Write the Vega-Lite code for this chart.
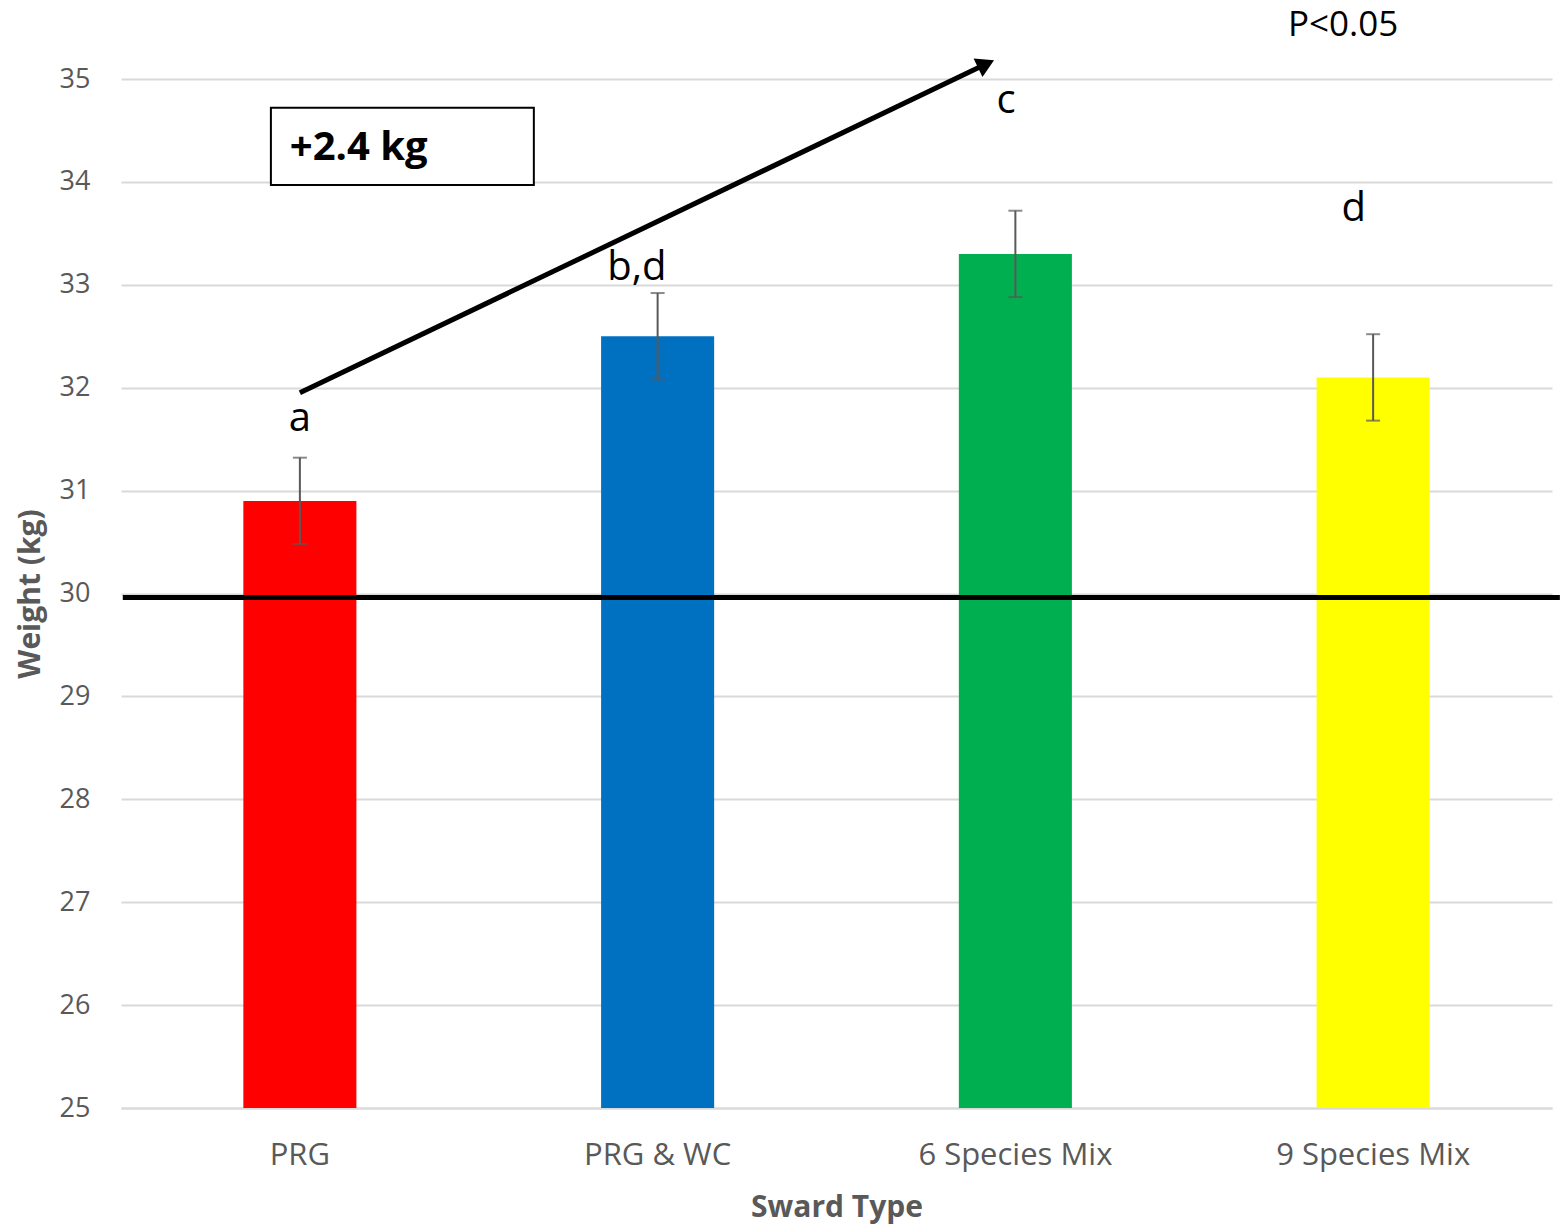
{
  "$schema": "https://vega.github.io/schema/vega-lite/v6.json",
  "width": 1431,
  "height": 1029,
  "autosize": {"type": "none"},
  "padding": {"left": 121, "top": 79, "right": 13, "bottom": 121},
  "background": "white",
  "config": {
    "view": {"stroke": null},
    "font": "Open Sans"
  },
  "datasets": {
    "bars": [
      {"sward": "PRG", "weight": 30.9, "lo": 30.48, "hi": 31.32},
      {"sward": "PRG & WC", "weight": 32.5, "lo": 32.08, "hi": 32.92},
      {"sward": "6 Species Mix", "weight": 33.3, "lo": 32.88, "hi": 33.72},
      {"sward": "9 Species Mix", "weight": 32.1, "lo": 31.68, "hi": 32.52}
    ],
    "labels": [
      {"pos": 0, "y": 31.7, "label": "a"},
      {"pos": 0.942, "y": 33.16, "label": "b,d"},
      {"pos": 1.974, "y": 34.79, "label": "c"},
      {"pos": 2.946, "y": 33.74, "label": "d"}
    ],
    "arrow": [
      {"x1": 0, "y1": 31.95, "x2": 1.918, "y2": 35.146}
    ],
    "box": [
      {"x1": -0.081, "x2": 0.654, "y1": 34.72, "y2": 33.97, "label": "+2.4 kg", "tx": -0.028, "ty": 34.33}
    ],
    "pval": [
      {"pos": 2.916, "y": 35.52, "label": "P<0.05"}
    ],
    "baseline": [
      {"x1": -0.495, "x2": 3.522, "y": 29.96}
    ]
  },
  "resolve": {"scale": {"x": "independent"}},
  "layer": [
    {
      "data": {"name": "bars"},
      "layer": [
        {
          "mark": {"type": "bar"},
          "encoding": {
            "x": {
              "field": "sward",
              "type": "nominal",
              "sort": ["PRG", "PRG & WC", "6 Species Mix", "9 Species Mix"],
              "scale": {"paddingInner": 0.684, "paddingOuter": 0.342},
              "axis": {
                "title": "Sward Type",
                "titleFont": "Open Sans",
                "titleFontSize": 30,
                "titleFontWeight": "bold",
                "titleColor": "#595959",
                "titlePadding": 22,
                "labelAngle": 0,
                "labelLimit": 0,
                "labelFont": "Open Sans",
                "labelFontSize": 31,
                "labelColor": "#595959",
                "labelPadding": 32,
                "ticks": false,
                "domainColor": "#d9d9d9",
                "domainWidth": 2,
                "grid": false
              }
            },
            "y": {
              "field": "weight",
              "type": "quantitative",
              "scale": {"domain": [25, 35], "nice": false, "zero": false},
              "axis": {
                "title": "Weight (kg)",
                "titleFont": "Open Sans",
                "titleFontSize": 30,
                "titleFontWeight": "bold",
                "titleColor": "#595959",
                "titlePadding": 14,
                "values": [25, 26, 27, 28, 29, 30, 31, 32, 33, 34, 35],
                "format": "d",
                "labelFont": "Open Sans",
                "labelFontSize": 27,
                "labelColor": "#595959",
                "labelPadding": 31,
                "ticks": false,
                "domain": false,
                "grid": true,
                "gridColor": "#d9d9d9",
                "gridWidth": 2
              }
            },
            "y2": {"datum": 25},
            "color": {
              "field": "sward",
              "type": "nominal",
              "scale": {
                "domain": ["PRG", "PRG & WC", "6 Species Mix", "9 Species Mix"],
                "range": ["#ff0000", "#0070c0", "#00b050", "#ffff00"]
              },
              "legend": null
            }
          }
        },
        {
          "mark": {"type": "rule", "color": "#595959", "strokeWidth": 2},
          "encoding": {
            "x": {"field": "sward", "type": "nominal", "sort": ["PRG", "PRG & WC", "6 Species Mix", "9 Species Mix"]},
            "y": {"field": "lo", "type": "quantitative"},
            "y2": {"field": "hi"}
          }
        },
        {
          "mark": {"type": "tick", "color": "#595959", "thickness": 2, "size": 14, "orient": "horizontal"},
          "encoding": {
            "x": {"field": "sward", "type": "nominal", "sort": ["PRG", "PRG & WC", "6 Species Mix", "9 Species Mix"]},
            "y": {"field": "lo", "type": "quantitative"}
          }
        },
        {
          "mark": {"type": "tick", "color": "#595959", "thickness": 2, "size": 14, "orient": "horizontal"},
          "encoding": {
            "x": {"field": "sward", "type": "nominal", "sort": ["PRG", "PRG & WC", "6 Species Mix", "9 Species Mix"]},
            "y": {"field": "hi", "type": "quantitative"}
          }
        }
      ]
    },
    {
      "layer": [
        {
          "data": {"name": "baseline"},
          "mark": {"type": "rule", "color": "black", "strokeWidth": 5},
          "encoding": {
            "x": {"field": "x1", "type": "quantitative", "scale": {"domain": [-0.5, 3.5], "nice": false, "zero": false}, "axis": null},
            "x2": {"field": "x2"},
            "y": {"field": "y", "type": "quantitative"}
          }
        },
        {
          "data": {"name": "arrow"},
          "mark": {"type": "rule", "color": "black", "strokeWidth": 5},
          "encoding": {
            "x": {"field": "x1", "type": "quantitative", "axis": null},
            "x2": {"field": "x2"},
            "y": {"field": "y1", "type": "quantitative"},
            "y2": {"field": "y2"}
          }
        },
        {
          "data": {"name": "arrow"},
          "mark": {"type": "point", "shape": "triangle-right", "filled": true, "color": "black", "opacity": 1, "size": 420, "angle": -25.6},
          "encoding": {
            "x": {"field": "x2", "type": "quantitative", "axis": null},
            "y": {"field": "y2", "type": "quantitative"}
          }
        },
        {
          "data": {"name": "box"},
          "mark": {"type": "rect", "fill": "white", "stroke": "black", "strokeWidth": 2},
          "encoding": {
            "x": {"field": "x1", "type": "quantitative", "axis": null},
            "x2": {"field": "x2"},
            "y": {"field": "y1", "type": "quantitative"},
            "y2": {"field": "y2"}
          }
        },
        {
          "data": {"name": "box"},
          "mark": {"type": "text", "align": "left", "baseline": "middle", "fontSize": 40, "fontWeight": "bold", "font": "Open Sans", "color": "black"},
          "encoding": {
            "x": {"field": "tx", "type": "quantitative", "axis": null},
            "y": {"field": "ty", "type": "quantitative"},
            "text": {"field": "label"}
          }
        },
        {
          "data": {"name": "labels"},
          "mark": {"type": "text", "align": "center", "baseline": "middle", "fontSize": 40, "font": "Open Sans", "color": "black"},
          "encoding": {
            "x": {"field": "pos", "type": "quantitative", "axis": null},
            "y": {"field": "y", "type": "quantitative"},
            "text": {"field": "label"}
          }
        },
        {
          "data": {"name": "pval"},
          "mark": {"type": "text", "align": "center", "baseline": "middle", "fontSize": 35, "font": "Open Sans", "color": "black"},
          "encoding": {
            "x": {"field": "pos", "type": "quantitative", "axis": null},
            "y": {"field": "y", "type": "quantitative"},
            "text": {"field": "label"}
          }
        }
      ]
    }
  ]
}
